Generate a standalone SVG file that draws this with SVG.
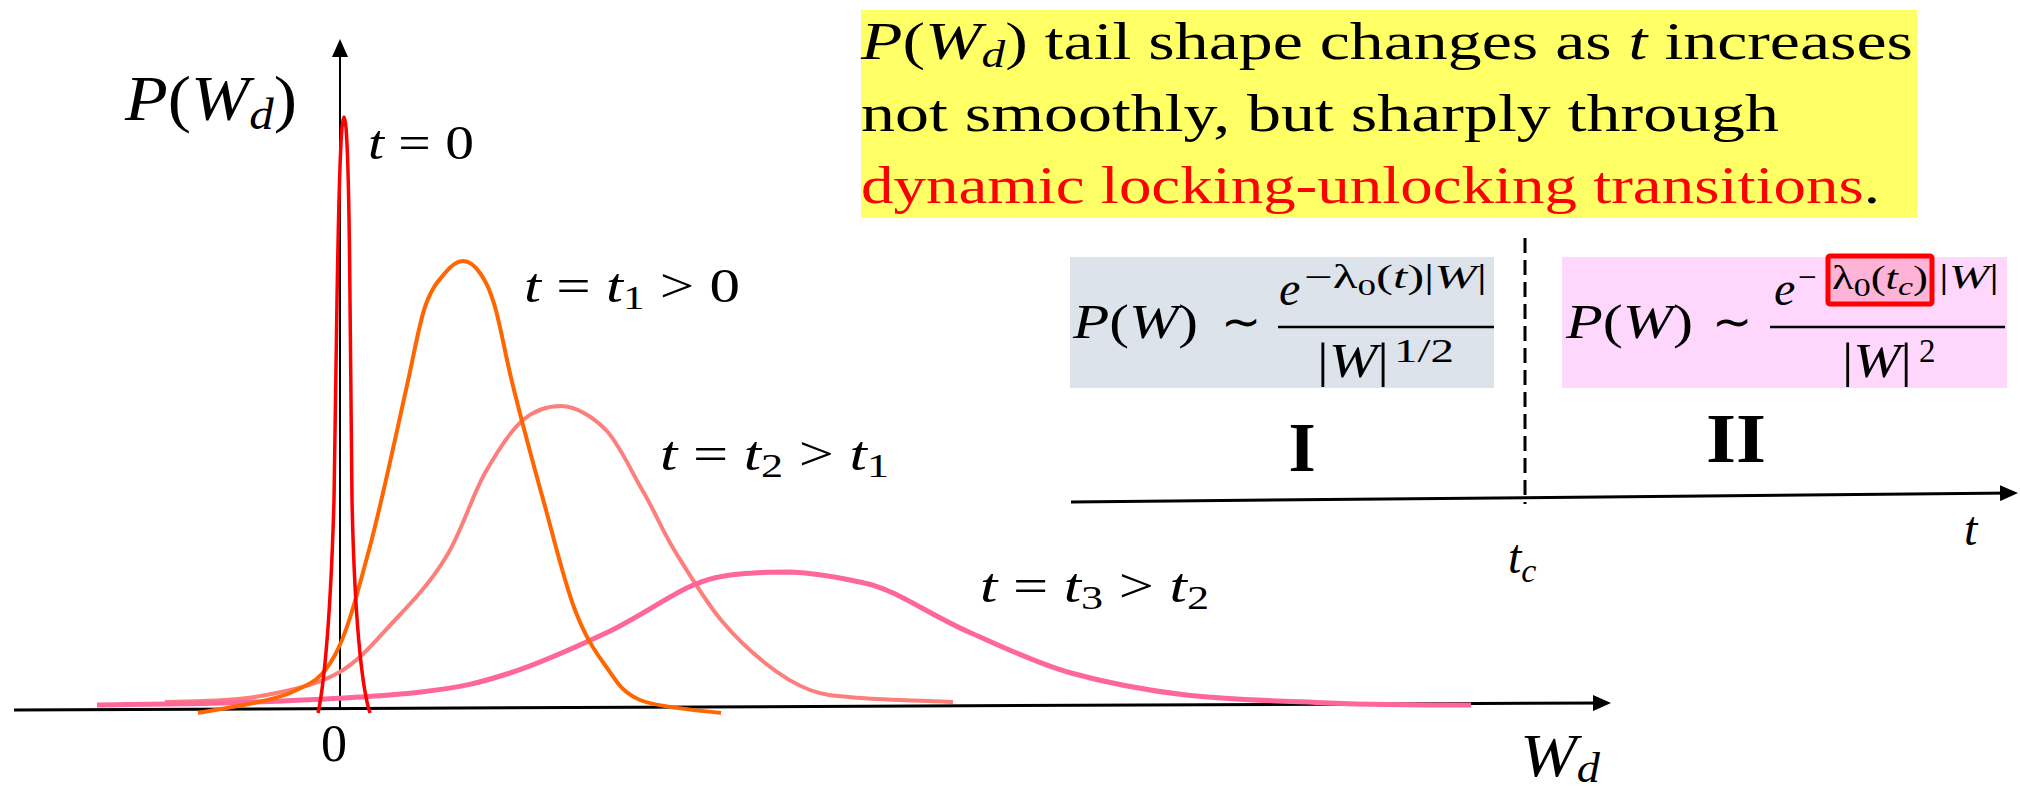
<svg xmlns="http://www.w3.org/2000/svg" width="2020" height="792" viewBox="0 0 2020 792">
<defs>
<style>
text{font-family:"Liberation Serif","Times New Roman",serif;fill:#000}
.i{font-style:italic}
.ax{stroke:#000;fill:none}
.cv{fill:none;stroke-linejoin:round}
.lbl{font-size:48px}
.fm{font-size:48px}
.sup{font-size:33px}
.rn{font-size:70px;font-weight:bold}
.bn{font-size:53px}
</style>
<marker id="ah" markerUnits="userSpaceOnUse" markerWidth="18" markerHeight="16" refX="14" refY="8" orient="auto"><path d="M0,0 L18,8 L0,16 Z" fill="#000"/></marker>
</defs>
<rect width="2020" height="792" fill="#fff"/>

<g id="banner">
<rect x="861" y="10" width="1056" height="208" fill="#ffff66"/>
<text class="bn" x="861" y="59" textLength="1052" lengthAdjust="spacingAndGlyphs"><tspan class="i">P</tspan>(<tspan class="i">W</tspan><tspan class="i" font-size="37" dy="8">d</tspan><tspan dy="-8">) tail shape changes as </tspan><tspan class="i">t</tspan> increases</text>
<text class="bn" x="861" y="131" textLength="918" lengthAdjust="spacingAndGlyphs">not smoothly, but sharply through</text>
<text class="bn" x="861" y="203" textLength="1019" lengthAdjust="spacingAndGlyphs"><tspan fill="#ff0000">dynamic locking-unlocking transitions</tspan>.</text>
</g>

<g id="regime-I">
<rect x="1070" y="257" width="424" height="131" fill="#dce3ea"/>
<text class="fm" x="1073" y="338" textLength="125" lengthAdjust="spacingAndGlyphs"><tspan class="i">P</tspan>(<tspan class="i">W</tspan>)</text>
<text class="fm" x="1241" y="338" text-anchor="middle" font-family="DejaVu Serif">∼</text>
<line x1="1278" y1="327" x2="1494" y2="327" stroke="#000" stroke-width="2.5"/>
<text class="fm i" x="1279" y="305">e</text>
<text class="sup" x="1304" y="288" textLength="183" lengthAdjust="spacingAndGlyphs">−λ<tspan font-size="24" dy="7">0</tspan><tspan dy="-7">(</tspan><tspan class="i">t</tspan>)|<tspan class="i">W</tspan>|</text>
<text class="fm" x="1317" y="377" textLength="72" lengthAdjust="spacingAndGlyphs">|<tspan class="i">W</tspan>|</text>
<text class="sup" x="1394" y="362" textLength="60" lengthAdjust="spacingAndGlyphs">1/2</text>
<text class="rn" x="1302" y="471" text-anchor="middle">I</text>
</g>

<g id="regime-II">
<rect x="1562" y="257" width="445" height="131" fill="#ffd7fd"/>
<text class="fm" x="1566" y="338" textLength="127" lengthAdjust="spacingAndGlyphs"><tspan class="i">P</tspan>(<tspan class="i">W</tspan>)</text>
<text class="fm" x="1732" y="338" text-anchor="middle" font-family="DejaVu Serif">∼</text>
<line x1="1770" y1="327" x2="2005" y2="327" stroke="#000" stroke-width="2.5"/>
<text class="fm i" x="1774" y="305">e</text>
<text class="sup" x="1798" y="288">−</text>
<rect x="1828" y="256" width="104" height="48" rx="2" fill="#ffb3d6" stroke="#ff0000" stroke-width="5"/>
<text class="sup" x="1832" y="289" font-size="35" textLength="96" lengthAdjust="spacingAndGlyphs">λ<tspan font-size="25" dy="7">0</tspan><tspan dy="-7">(</tspan><tspan class="i">t</tspan><tspan class="i" font-size="25" dy="6">c</tspan><tspan dy="-6">)</tspan></text>
<text class="sup" x="1939" y="288" textLength="60" lengthAdjust="spacingAndGlyphs">|<tspan class="i">W</tspan>|</text>
<text class="fm" x="1842" y="377" textLength="70" lengthAdjust="spacingAndGlyphs">|<tspan class="i">W</tspan>|</text>
<text class="sup" x="1919" y="362">2</text>
<text class="rn" x="1736" y="462" text-anchor="middle" textLength="60" lengthAdjust="spacingAndGlyphs">II</text>
</g>

<g id="connectors">
<line class="ax" x1="340" y1="709" x2="340" y2="43" stroke-width="2" marker-end="url(#ah)"/>
<line class="ax" x1="14" y1="710" x2="1607" y2="703" stroke-width="3" marker-end="url(#ah)"/>
<line class="ax" x1="1071" y1="502" x2="2014" y2="493" stroke-width="3" marker-end="url(#ah)"/>
<line class="ax" x1="1525" y1="238" x2="1525" y2="504" stroke-width="3" stroke-dasharray="15 7"/>
</g>

<g id="curves">
<path id="curve-t2" class="cv" stroke="#fc7f7c" stroke-width="4" d="M165,702 C180,701 226,702 255,697 C284,692 315,686 338,673 C361,660 377,639 395,620 C413,601 431,582 446,557 C461,533 472,496 485,473 C498,450 510,431 523,420 C535,410 547,406 561,406 C575,406 592,416 606,430 C620,445 632,473 644,493 C656,514 663,532 676,553 C689,574 706,602 721,620 C736,638 750,651 765,663 C780,675 794,684 810,690 C826,696 837,696 861,698 C885,700 938,701 953,702"/>
<path id="curve-t3" class="cv" stroke="#ff6699" stroke-width="5" d="M97,705 C123,704.5 201,704 255,702 C309,700 378,697 421,692 C463,687 479,683 510,673 C541,663 576,647 606,633 C636,619 667,597 689,587 C711,577 723,576 740,574 C757,572 773,572 791,572 C809,573 833,576.5 850,580 C867,583.5 873,584 893,593 C913,602 941,620 971,633 C1001,646 1035,663 1071,673 C1107,683 1143,690 1186,695 C1229,700 1281,701 1329,703 C1377,705 1447,705 1471,705"/>
<path id="curve-t1" class="cv" stroke="#ff6600" stroke-width="4" d="M198,713 C213,710 267,703 290,693 C313,683 322,679 335,655 C348,631 357,594 369,550 C381,506 397,430 406,390 C415,350 418.5,326.5 425,307 C431.5,287.5 438.7,280.7 445,273 C451.3,265.3 457.2,261 463,261 C468.8,261 474.7,265.3 480,273 C485.3,280.7 489.3,287.5 495,307 C500.7,326.5 505.5,356.2 514,390 C522.5,423.8 535.8,473.3 546,510 C556,547 565,584 575,610 C585,636 594,650 605,665 C616,680 621,692 640,700 C659,708 707,711 721,713"/>
<path id="curve-t0" class="cv" stroke="#ff0000" stroke-width="3.5" d="M318,713 C322,695 330,640 334,500 L337,300 C339,180 341,117 344,117 C347,117 349,180 350,300 L352,500 C355,640 364,695 370,713"/>
</g>

<g id="labels">
<text x="125" y="120" font-size="63" textLength="172" lengthAdjust="spacingAndGlyphs"><tspan class="i">P</tspan>(<tspan class="i">W</tspan><tspan class="i" font-size="44" dy="9">d</tspan><tspan dy="-9">)</tspan></text>
<text class="lbl" x="368" y="159" textLength="106" lengthAdjust="spacingAndGlyphs"><tspan class="i">t</tspan> = 0</text>
<text class="lbl" x="524" y="302" textLength="216" lengthAdjust="spacingAndGlyphs"><tspan class="i">t</tspan> = <tspan class="i">t</tspan><tspan font-size="34" dy="7">1</tspan><tspan dy="-7"> &gt; 0</tspan></text>
<text class="lbl" x="660" y="470" textLength="229" lengthAdjust="spacingAndGlyphs"><tspan class="i">t</tspan> = <tspan class="i">t</tspan><tspan font-size="34" dy="7">2</tspan><tspan dy="-7"> &gt; </tspan><tspan class="i">t</tspan><tspan font-size="34" dy="7">1</tspan></text>
<text class="lbl" x="980" y="602" textLength="229" lengthAdjust="spacingAndGlyphs"><tspan class="i">t</tspan> = <tspan class="i">t</tspan><tspan font-size="34" dy="7">3</tspan><tspan dy="-7"> &gt; </tspan><tspan class="i">t</tspan><tspan font-size="34" dy="7">2</tspan></text>
<text x="334" y="761" font-size="52" text-anchor="middle">0</text>
<text x="1520" y="776" font-size="62" textLength="80" lengthAdjust="spacingAndGlyphs"><tspan class="i">W</tspan><tspan class="i" font-size="42" dy="6">d</tspan></text>
<text class="lbl i" x="1508" y="573">t<tspan font-size="34" dy="9">c</tspan></text>
<text class="lbl i" x="1964" y="545">t</text>
</g>
</svg>
